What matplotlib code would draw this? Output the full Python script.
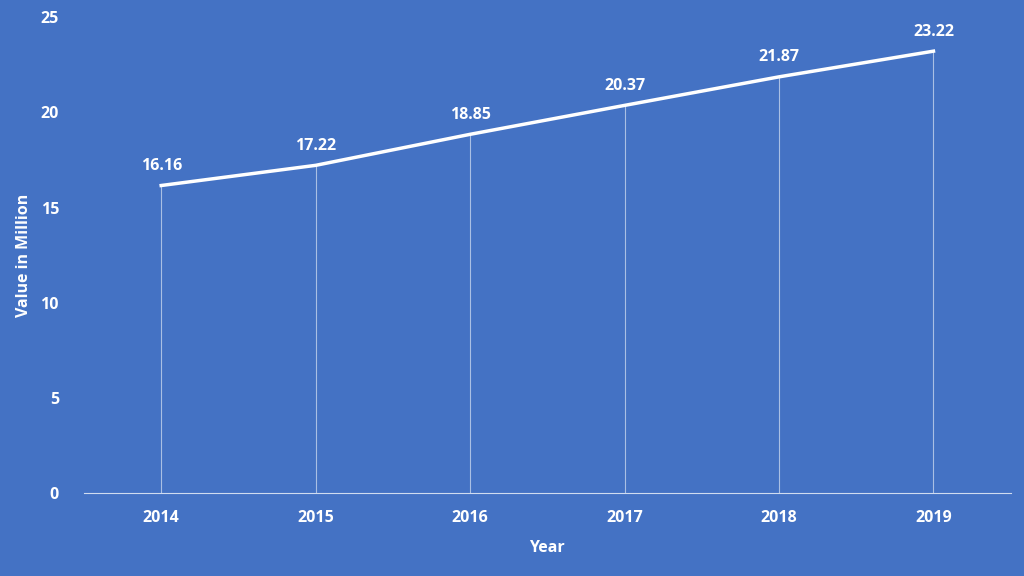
import matplotlib
matplotlib.use("Agg")
import matplotlib.pyplot as plt

years = ["2014", "2015", "2016", "2017", "2018", "2019"]
values = [16.16, 17.22, 18.85, 20.37, 21.87, 23.22]
labels = ["16.16", "17.22", "18.85", "20.37", "21.87", "23.22"]

bg = "#4472C4"
plt.rcParams['font.family'] = ['Open Sans', 'DejaVu Sans']
fig = plt.figure(figsize=(10.24, 5.76), dpi=100, facecolor=bg)
ax = fig.add_axes([0.082, 0.144, 0.905, 0.826], facecolor=bg)
x = list(range(len(years)))
ax.vlines(x, 0, values, color="white", lw=0.8, alpha=0.55)
ax.plot(x, values, color="white", lw=2.5)
for xi, v, l in zip(x, values, labels):
    ax.text(xi, v + 0.6, l, ha="center", va="bottom", color="white",
            fontsize=11.5, fontweight="bold")
ax.set_xlim(-0.5, 5.5)
ax.set_ylim(0, 25)
ax.set_xticks(x, years)
ax.set_yticks([0, 5, 10, 15, 20, 25])
ax.tick_params(colors="white", labelsize=11.5, length=0, pad=12)
ax.tick_params(axis="y", pad=18)
for t in ax.get_xticklabels() + ax.get_yticklabels():
    t.set_fontweight("bold")
for s in ["top", "right", "left"]:
    ax.spines[s].set_visible(False)
ax.spines["bottom"].set_color("#d0dcf0")
ax.set_xlabel("Year", color="white", fontsize=11.5, fontweight="bold", labelpad=10)
ax.set_ylabel("Value in Million", color="white", fontsize=11.5, fontweight="bold", labelpad=6)
fig.savefig("out.png", facecolor=bg)
